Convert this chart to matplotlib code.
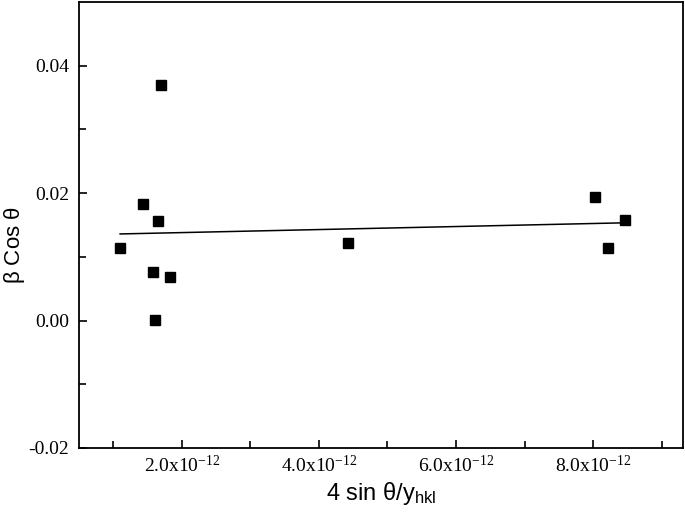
import numpy as np
import matplotlib
matplotlib.use('Agg')
import matplotlib.pyplot as plt

# 4 sin(theta)/y_hkl (x 1e-12) and beta cos(theta)
x_vals = [1.10, 1.43, 1.70, 1.65, 1.58, 1.83, 1.61, 4.43, 8.03, 8.47, 8.22]
y_vals = [0.01145, 0.01835, 0.0370, 0.0157, 0.00769, 0.0069, 0.00016,
          0.01224, 0.01945, 0.01584, 0.01145]
x_ticks = [2.0, 4.0, 6.0, 8.0]
y_ticks = [-0.02, 0.00, 0.02, 0.04]

plt.rcParams['mathtext.fontset'] = 'custom'
plt.rcParams['mathtext.rm'] = 'Liberation Serif'
plt.rcParams['mathtext.it'] = 'Liberation Serif'

x = np.array(x_vals) * 1e-12
y = np.array(y_vals)

fig = plt.figure(figsize=(6.85, 5.17), dpi=100)
ax = fig.add_axes([0.1153, 0.1335, 0.8817, 0.8625])

ax.plot(x, y, 's', color='black', ms=7.5, ls='none')

# linear fit over the data range
slope, icpt = np.polyfit(x, y, 1)
xf = np.array([x.min(), x.max()])
ax.plot(xf, slope * xf + icpt, color='black', lw=1.1)

ax.set_xlim(0.5e-12, 9.31e-12)
ax.set_ylim(-0.02, 0.05)

ax.set_xticks([v * 1e-12 for v in x_ticks])
ax.set_xticklabels([r'%.1fx10$^{\mathregular{-12}}$' % v for v in x_ticks],
                   family='Liberation Serif', fontsize=14)
ax.set_xticks([v * 1e-12 for v in [1, 3, 5, 7, 9]], minor=True)
ax.set_yticks(y_ticks)
ax.set_yticklabels(['%.2f' % v for v in y_ticks],
                   family='Liberation Serif', fontsize=14)
ax.set_yticks([-0.01, 0.01, 0.03], minor=True)

ax.tick_params(which='major', direction='in', length=6, width=1.2)
ax.tick_params(which='minor', direction='in', length=5, width=1.2)
ax.tick_params(axis='y', pad=7)
ax.tick_params(axis='x', pad=5)
for s in ax.spines.values():
    s.set_linewidth(1.3)

ax.set_xlabel(r'4 sin $\mathregular{\theta}$/y$_{\mathregular{hkl}}$',
              family='Liberation Sans', fontsize=17, labelpad=3)
ax.set_ylabel(r'$\mathregular{\beta}$ Cos $\mathregular{\theta}$',
              family='Liberation Sans', fontsize=16)
ax.yaxis.set_label_coords(-0.086, 0.455)

fig.savefig('out.png', dpi=100)
